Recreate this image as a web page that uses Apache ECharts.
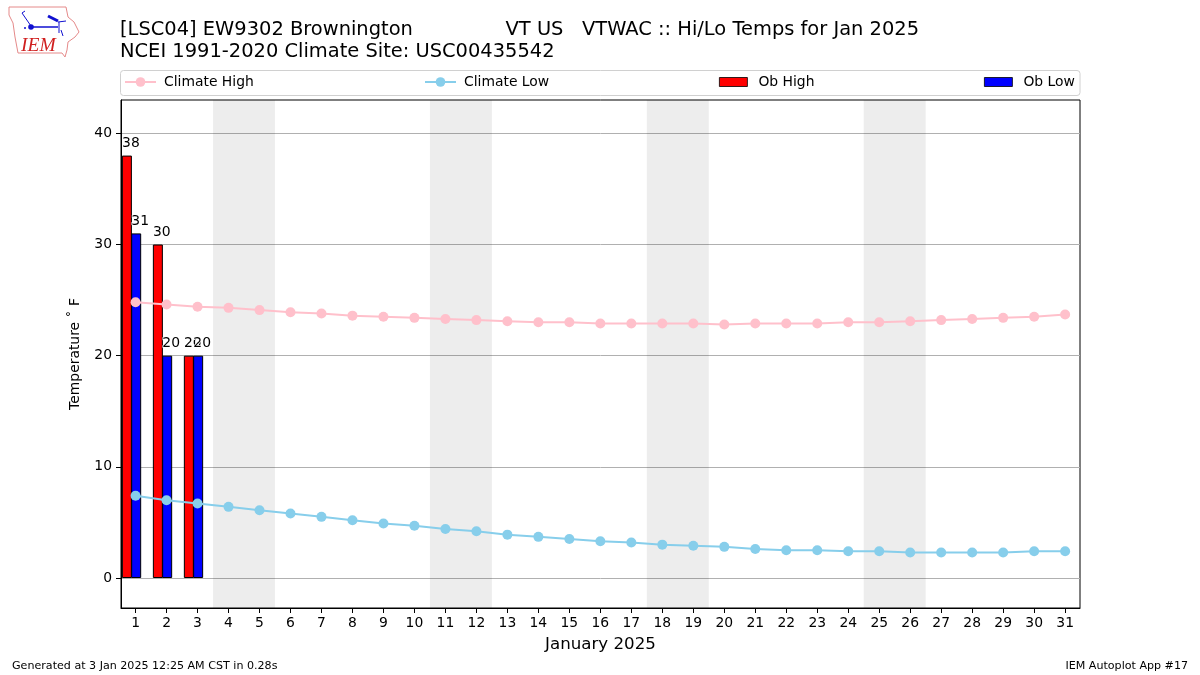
<!DOCTYPE html>
<html>
<head>
<meta charset="utf-8">
<title>Hi/Lo Temps for Jan 2025</title>
<script src="https://cdn.jsdelivr.net/npm/echarts@6/dist/echarts.min.js"></script>
<style>
html,body{margin:0;padding:0;background:#fff}
#chart{width:1200px;height:675px}
</style>
</head>
<body>
<div id="chart"></div>
<script>
const FONT = '"DejaVu Sans"';

const days = [1,2,3,4,5,6,7,8,9,10,11,12,13,14,15,16,17,18,19,20,21,22,23,24,25,26,27,28,29,30,31];
const climateHigh = [24.8,24.6,24.4,24.3,24.1,23.9,23.8,23.6,23.5,23.4,23.3,23.2,23.1,23.0,23.0,22.9,22.9,22.9,22.9,22.8,22.9,22.9,22.9,23.0,23.0,23.1,23.2,23.3,23.4,23.5,23.7];
const climateLow = [7.4,7.0,6.7,6.4,6.1,5.8,5.5,5.2,4.9,4.7,4.4,4.2,3.9,3.7,3.5,3.3,3.2,3.0,2.9,2.8,2.6,2.5,2.5,2.4,2.4,2.3,2.3,2.3,2.3,2.4,2.4];
const obDays = [1,2,3];
const obHigh = [38,30,20];
const obLow = [31,20,20];
const yTicks = [0,10,20,30,40];
const weekends = [[3.5,5.5],[10.5,12.5],[17.5,19.5],[24.5,26.5]];

const titleText = '[LSC04] EW9302 Brownington               VT US   VTWAC :: Hi/Lo Temps for Jan 2025\nNCEI 1991-2020 Climate Site: USC00435542';

const chart = echarts.init(document.getElementById('chart'), null, {renderer:'canvas'});

function lineSeries(name, values, color, withShade){
    const s = {
        name: name,
        type: 'line',
        data: days.map((d,i)=>[d,values[i]]),
        symbol: 'circle',
        symbolSize: 10,
        z: 5,
        silent: true,
        animation: false,
        lineStyle: {color: color, width: 2},
        itemStyle: {color: color}
    };
    if(withShade){
        s.markArea = {
            silent: true,
            z: 0,
            itemStyle: {color: 'rgba(0,0,0,0.07)'},
            data: weekends.map(w=>[{xAxis:w[0]},{xAxis:w[1]}])
        };
    }
    return s;
}

function barSeries(name, xs, values, color){
    return {
        name: name,
        type: 'bar',
        barWidth: 10,
        barGap: '-100%',
        z: 3,
        animation: false,
        data: xs.map((x,i)=>[x,values[i]]),
        itemStyle: {color: color, borderColor: '#000', borderWidth: 1},
        label: {
            show: true,
            position: 'top',
            distance: 5,
            offset: [4,0],
            color: '#000',
            fontFamily: FONT,
            fontSize: 13.9,
            textBorderColor: '#fff',
            textBorderWidth: 1.5,
            formatter: p=>String(p.value[1])
        }
    };
}

function legendAt(name, left, width){
    const isBar = name.indexOf('Ob')===0;
    const l = {
        data: [isBar ? {name:name, icon:'rect'} : {name:name}],
        left: left,
        top: 75,
        itemWidth: width,
        itemHeight: isBar ? 9 : 12,
        selectedMode: false,
        padding: 0,
        textStyle: {fontFamily: FONT, fontSize: 13.9, color: '#000', padding: [0,0,0,isBar ? 6 : 3]}
    };
    if(isBar){
        l.itemStyle = {borderWidth: 0.8};
    }
    return l;
}

// IEM logo, drawn by hand
const blue = '#1010d0';
const logo = [
    {type:'polygon', shape:{points:[[9,7],[66,7],[68,17],[74,22],[79,32],[75,37],[68,42],[67,50],[65,57],[62,53],[18,53],[15,37],[13,23],[9,15]]},
        style:{fill:'#fff', stroke:'#e58a8a', lineWidth:1}},
    {type:'line', shape:{x1:32,y1:27,x2:58,y2:27}, style:{stroke:blue, lineWidth:1.5}},
    {type:'line', shape:{x1:31,y1:26,x2:22,y2:13}, style:{stroke:blue, lineWidth:1}},
    {type:'line', shape:{x1:22,y1:13,x2:25,y2:11}, style:{stroke:blue, lineWidth:1}},
    {type:'line', shape:{x1:59,y1:22,x2:59,y2:33}, style:{stroke:blue, lineWidth:1}},
    {type:'line', shape:{x1:58,y1:22,x2:66,y2:21}, style:{stroke:blue, lineWidth:1}},
    {type:'line', shape:{x1:48,y1:16,x2:58,y2:21}, style:{stroke:blue, lineWidth:3}},
    {type:'line', shape:{x1:61,y1:30,x2:63,y2:36}, style:{stroke:blue, lineWidth:1}},
    {type:'circle', shape:{cx:31,cy:27,r:2.8}, style:{fill:blue}},
    {type:'circle', shape:{cx:25,cy:28,r:1}, style:{fill:blue}},
    {type:'text', left:21, top:36, style:{text:'IEM', fontFamily:'"Liberation Serif"', fontStyle:'italic', fontSize:19.5, fill:'#d02020'}}
];

const option = {
    animation: false,
    backgroundColor: '#fff',
    textStyle: {fontFamily: FONT},
    title: [
        {text: titleText, left: 120, top: 19, padding: 0,
            textStyle: {fontFamily: FONT, fontSize: 19.44, fontWeight: 'normal', color: '#000', lineHeight: 22}},
        {text: 'Generated at 3 Jan 2025 12:25 AM CST in 0.28s', left: 12, top: 661, padding: 0,
            textStyle: {fontFamily: FONT, fontSize: 11.1, fontWeight: 'normal', color: '#000'}},
        {text: 'IEM Autoplot App #17', right: 12, top: 661, padding: 0,
            textStyle: {fontFamily: FONT, fontSize: 11.1, fontWeight: 'normal', color: '#000'}}
    ],
    legend: [
        legendAt('Climate High',124,31),
        legendAt('Climate Low',424,31),
        legendAt('Ob High',719,28),
        legendAt('Ob Low',984,28)
    ],
    grid: {left: 121, top: 100, width: 959, height: 508, show: true, borderColor: '#000', borderWidth: 1, backgroundColor: 'transparent'},
    xAxis: {
        type: 'value',
        min: 0.53,
        max: 31.48,
        name: 'January 2025',
        nameLocation: 'middle',
        nameGap: 28,
        nameTextStyle: {fontFamily: FONT, fontSize: 16.67, color: '#000'},
        axisLine: {show: true, onZero: false, lineStyle: {color: '#000'}},
        axisTick: {show: true, length: 5, customValues: days, lineStyle: {color: '#000'}},
        axisLabel: {customValues: days, fontFamily: FONT, fontSize: 13.9, color: '#000', margin: 8},
        splitLine: {show: false}
    },
    yAxis: {
        type: 'value',
        min: -2.7,
        max: 43,
        name: 'Temperature ˚ F',
        nameLocation: 'middle',
        nameGap: 39,
        nameTextStyle: {fontFamily: FONT, fontSize: 13.9, color: '#000'},
        axisLine: {show: true, lineStyle: {color: '#000'}},
        axisTick: {show: true, length: 5, customValues: yTicks, lineStyle: {color: '#000'}},
        axisLabel: {customValues: yTicks, fontFamily: FONT, fontSize: 13.9, color: '#000', margin: 9, padding: [3,0,0,0]},
        splitLine: {show: true, lineStyle: {color: '#b0b0b0', width: 1}}
    },
    series: [
        lineSeries('Climate High', climateHigh, 'pink', true),
        lineSeries('Climate Low', climateLow, 'skyblue', false),
        barSeries('Ob High', obDays.map(d=>d-0.28), obHigh, '#ff0000'),
        barSeries('Ob Low', obDays.map(d=>d+0.02), obLow, '#0000ff')
    ],
    graphic: [
        {type:'rect', z:-1, shape:{x:120.5,y:70.5,width:959.5,height:25,r:3}, style:{fill:'#fff', stroke:'#d0d0d0', lineWidth:1}},
        {type:'group', children: logo}
    ]
};

chart.setOption(option);
</script>
</body>
</html>
